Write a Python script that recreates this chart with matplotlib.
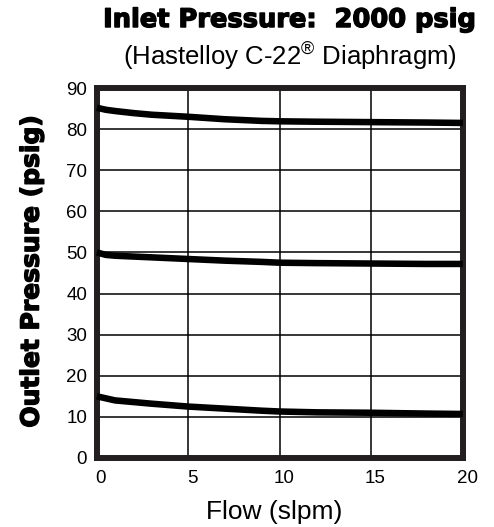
import numpy as np
import matplotlib.pyplot as plt
import matplotlib.patheffects as pe
from matplotlib.transforms import ScaledTranslation

plt.rcParams['font.family'] = ['Liberation Sans', 'DejaVu Sans']
plt.rcParams['mathtext.fontset'] = 'custom'
plt.rcParams['mathtext.rm'] = 'Liberation Sans'

# flow (slpm) vs outlet pressure (psig)
flow = [0, 0.5, 1, 2, 3, 5, 7, 9, 10, 12, 15, 18, 20]
p_high = [85.2, 84.7, 84.4, 83.9, 83.5, 83.0, 82.4, 82.0, 81.9, 81.8, 81.7, 81.6, 81.5]
p_mid = [50.0, 49.4, 49.2, 49.0, 48.8, 48.4, 48.0, 47.7, 47.5, 47.4, 47.3, 47.2, 47.2]
p_low = [15.0, 14.5, 14.0, 13.6, 13.2, 12.5, 12.0, 11.5, 11.3, 11.1, 11.0, 10.8, 10.7]

xticks = [0, 5, 10, 15, 20]
yticks = list(range(0, 91, 10))

fig = plt.figure(figsize=(4.94, 5.27), dpi=100)
ax = fig.add_axes([0.196, 0.131, 0.741, 0.702])

for p in (p_high, p_mid, p_low):
    ax.plot(flow, p, color='black', lw=4.7, solid_capstyle='butt', zorder=3, clip_on=False)

ax.set_xlim(0, 20)
ax.set_ylim(0, 90)
ax.set_xticks(xticks)
ax.set_yticks(yticks)
ax.grid(True, color='black', lw=1.1)
ax.tick_params(length=0, labelsize=13.5)
ax.tick_params(axis='x', pad=9)
ax.tick_params(axis='y', pad=7)
# x tick labels sit a little to the right in the original
shift = ScaledTranslation(3 / 72, 0, fig.dpi_scale_trans)
for lab in ax.get_xticklabels():
    lab.set_transform(lab.get_transform() + shift)
for s in ax.spines.values():
    s.set_color('#231f20')
    s.set_linewidth(4.3)

heavy = dict(family='DejaVu Sans', fontweight='bold',
             path_effects=[pe.withStroke(linewidth=1.0, foreground='black')])

fig.text(0.064, 0.485, 'Outlet Pressure (psig)', rotation=90, ha='center', va='center',
         fontsize=18, **heavy)
fig.text(0.555, 0.028, 'Flow (slpm)', ha='center', va='center', fontsize=19)
fig.text(0.587, 0.962, 'Inlet Pressure:  2000 psig', ha='center', va='center',
         fontsize=18.5, **heavy)
fig.text(0.587, 0.895, r'(Hastelloy C-22$^{\mathrm{®}}$ Diaphragm)', ha='center', va='center',
         fontsize=18.5)

plt.savefig('out.png', dpi=100)
